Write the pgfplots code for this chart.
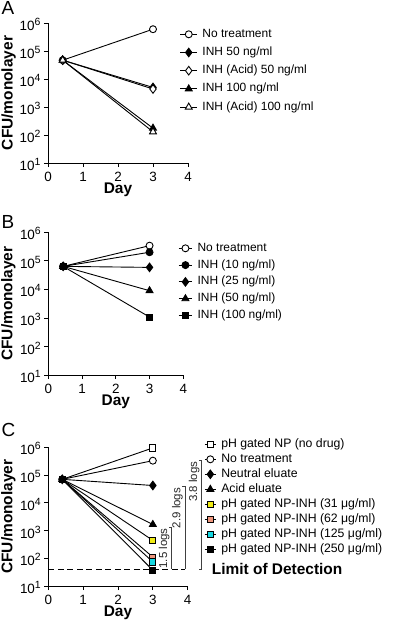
\documentclass[border=0pt]{standalone}
\usepackage{fontspec}
\setmainfont{Liberation Sans}
\usepackage{pgfplots}
\pgfplotsset{compat=1.18}
\definecolor{npyellow}{RGB}{240,235,20}
\definecolor{npsalmon}{RGB}{238,150,125}
\definecolor{npcyan}{RGB}{20,215,225}
\newcommand{\tl}[1]{10\raisebox{5bp}{\fontsize{10.5}{10.5}\selectfont #1}}
\newcommand{\lblfont}{\bfseries\fontsize{15.5}{16}\selectfont}
\pgfplotsset{
  panel/.style={
    scale only axis,
    axis lines=left,
    axis line style={-, line width=0.9bp},
    xmin=0, xmax=4, ymin=10, ymax=1e6,
    xtick={0,1,2,3,4}, xticklabels={0,1,2,3,4},
    ytick={10,100,1000,10000,100000,1000000},
    yticklabels={\tl{1},\tl{2},\tl{3},\tl{4},\tl{5},\tl{6}},
    yminorticks=false,
    tick align=outside, major tick length=4bp,
    tick style={black, line width=0.8bp},
    ticklabel style={font=\fontsize{13.5}{14}\selectfont},
    xticklabel style={inner sep=1bp, yshift=-4.2bp},
    yticklabel style={yshift=-1.5bp},
    xlabel={Day}, ylabel={CFU/monolayer},
    clip=false,
    every axis plot/.append style={black, line width=0.9bp, mark size=3.5bp, mark options={solid}},
    legend cell align=left,
    legend style={draw=none, inner sep=0pt, outer sep=0pt,
      font=\fontsize{12}{12}\selectfont,
      nodes={inner sep=0pt, text height=9bp, text depth=3bp},
      /tikz/every odd column/.append style={column sep=5bp}},
  },
  legline/.style={legend image code/.code={%
    \pgfsetlinewidth{0.9bp}\pgfsetstrokecolor{black}\pgfsetdash{}{0pt}%
    \pgfpathmoveto{\pgfpoint{0bp}{0bp}}\pgfpathlineto{\pgfpoint{#1}{0bp}}\pgfusepath{stroke}%
    \draw[mark repeat=2,mark phase=2] plot coordinates {(0bp,0bp) (#1/2,0bp) (#1,0bp)};}},
  openc/.style={mark=*, mark options={fill=white, solid}},
  fdiam/.style={mark=diamond*, mark size=4.3bp, mark options={fill=black, solid}},
  odiam/.style={mark=diamond*, mark size=4.3bp, mark options={fill=white, solid}},
  ftri/.style={mark=triangle*, mark size=4bp, mark options={fill=black, solid}},
  otri/.style={mark=triangle*, mark size=4bp, mark options={fill=white, solid}},
  sq/.style={mark=square*, mark size=3.1bp, mark options={fill=#1, solid}},
}
\begin{document}
\begin{tikzpicture}
\useasboundingbox (0,0) rectangle (400bp,-622bp);
% ---------------- Panel A
\begin{axis}[panel, ymode=log, at={(48bp,-163bp)}, anchor=south west,
  width=140bp, height=140bp,
  every axis y label/.style={at={(axis description cs:-0.282,0.5)}, rotate=90, anchor=center, font=\lblfont},
  every axis x label/.style={at={(axis description cs:0.5,-0.188)}, anchor=center, inner sep=0pt, font=\lblfont},
  legline=16.6bp,
  legend style={at={(axis description cs:1,1)}, anchor=north west, xshift=-8bp, yshift=-5.3bp,
    row sep=6.2bp}]
\addplot[openc] coordinates {(0.42,4.7e4) (3,6e5)};
\addlegendentry{No treatment}
\addplot[fdiam] coordinates {(0.42,4.7e4) (3,5e3)};
\addlegendentry{INH 50 ng/ml}
\addplot[odiam] coordinates {(0.42,4.7e4) (3,4.4e3)};
\addlegendentry{INH (Acid) 50 ng/ml}
\addplot[ftri] coordinates {(0.42,4.7e4) (3,175)};
\addlegendentry{INH 100 ng/ml}
\addplot[otri] coordinates {(0.42,4.7e4) (3,130)};
\addlegendentry{INH (Acid) 100 ng/ml}
\end{axis}
% ---------------- Panel B
\begin{axis}[panel, ymode=log, at={(48.3bp,-375bp)}, anchor=south west,
  width=135bp, height=142.7bp,
  every axis y label/.style={at={(axis description cs:-0.295,0.5)}, rotate=90, anchor=center, font=\lblfont},
  every axis x label/.style={at={(axis description cs:0.5,-0.189)}, anchor=center, inner sep=0pt, font=\lblfont},
  legline=13.4bp,
  legend style={at={(axis description cs:1,1)}, anchor=north west, xshift=-5bp, yshift=-10bp,
    row sep=4.8bp}]
\addplot[openc] coordinates {(0.44,6.4e4) (3,3.4e5)};
\addlegendentry{No treatment}
\addplot[mark=*] coordinates {(0.44,6.4e4) (3,2e5)};
\addlegendentry{INH (10 ng/ml)}
\addplot[fdiam] coordinates {(0.44,6.4e4) (3,5.9e4)};
\addlegendentry{INH (25 ng/ml)}
\addplot[ftri] coordinates {(0.44,6.4e4) (3,9e3)};
\addlegendentry{INH (50 ng/ml)}
\addplot[sq=black] coordinates {(0.44,6.4e4) (3,1.07e3)};
\addlegendentry{INH (100 ng/ml)}
\end{axis}
% ---------------- Panel C
\begin{axis}[panel, ymode=log, at={(48.3bp,-586bp)}, anchor=south west,
  width=139.4bp, height=138.7bp,
  every axis y label/.style={at={(axis description cs:-0.2855,0.5)}, rotate=90, anchor=center, font=\lblfont},
  every axis x label/.style={at={(axis description cs:0.5,-0.195)}, anchor=center, inner sep=0pt, font=\lblfont},
  legline=11bp,
  legend style={at={(axis description cs:1,1)}, anchor=north west, xshift=16.7bp, yshift=9bp,
    row sep=3bp, font=\fontsize{12.3}{12.3}\selectfont}]
\addplot[sq=white] coordinates {(0.4,7e4) (3,9.5e5)};
\addlegendentry{pH gated NP (no drug)}
\addplot[openc] coordinates {(0.4,7e4) (3,3.3e5)};
\addlegendentry{No treatment}
\addplot[fdiam] coordinates {(0.4,7e4) (3,4.2e4)};
\addlegendentry{Neutral eluate}
\addplot[ftri] coordinates {(0.4,7e4) (3,1.65e3)};
\addlegendentry{Acid eluate}
\addplot[sq=npyellow] coordinates {(0.4,7e4) (3,440)};
\addlegendentry{pH gated NP-INH (31 μg/ml)}
\addplot[sq=npsalmon] coordinates {(0.4,7e4) (3,110)};
\addlegendentry{pH gated NP-INH (62 μg/ml)}
\addplot[sq=npcyan] coordinates {(0.4,7e4) (3,74)};
\addlegendentry{pH gated NP-INH (125 μg/ml)}
\addplot[sq=black] coordinates {(0.4,7e4) (3,37)};
\addlegendentry{pH gated NP-INH (250 μg/ml)}
% limit of detection and brackets
\draw[black, line width=0.9bp, dash pattern=on 6bp off 3.5bp] (axis cs:0,40) -- (axis cs:3.92,40);
\draw[black!75, line width=0.8bp] (axis cs:3.47,1320) -- (axis cs:3.54,1320) -- (axis cs:3.54,40);
\draw[black!75, line width=0.8bp] (axis cs:3.85,3.8e4) -- (axis cs:3.92,3.8e4) -- (axis cs:3.92,40);
\draw[black!75, line width=0.8bp] (axis cs:4.33,3.3e5) -- (axis cs:4.40,3.3e5) -- (axis cs:4.40,40) -- (axis cs:4.33,40);
\node[rotate=90, anchor=south east, inner sep=1bp, font=\fontsize{11.5}{12}\selectfont, text=black!85] at (axis cs:3.51,1320) {1.5 logs};
\node[rotate=90, anchor=south east, inner sep=1bp, font=\fontsize{11.5}{12}\selectfont, text=black!85] at (axis cs:3.89,3.8e4) {2.9 logs};
\node[rotate=90, anchor=south east, inner sep=1bp, font=\fontsize{11.5}{12}\selectfont, text=black!85] at (axis cs:4.37,3.3e5) {3.8 logs};
\node[anchor=west, inner sep=0pt, font=\bfseries\fontsize{15.5}{16}\selectfont] at (axis cs:4.69,40) {Limit of Detection};
\end{axis}
% panel letters
\node[anchor=north west, inner sep=0pt, font=\fontsize{19}{19}\selectfont] at (1.5bp,-1.7bp) {A};
\node[anchor=north west, inner sep=0pt, font=\fontsize{19}{19}\selectfont] at (1.5bp,-215bp) {B};
\node[anchor=north west, inner sep=0pt, font=\fontsize{19}{19}\selectfont] at (1.5bp,-423bp) {C};
\end{tikzpicture}
\end{document}
